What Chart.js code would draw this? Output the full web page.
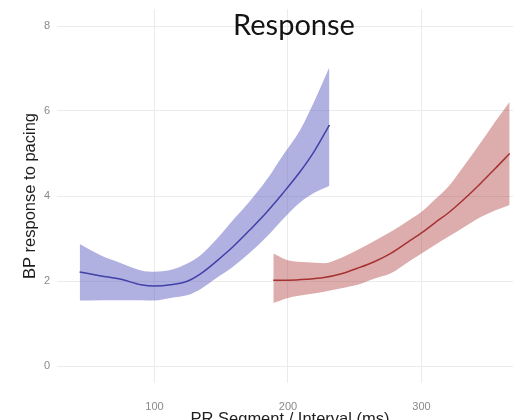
<!DOCTYPE html>
<html>
<head>
<meta charset="utf-8">
<script src="https://cdn.jsdelivr.net/npm/chart.js@4"></script>
<style>
  html, body { margin: 0; padding: 0; overflow: hidden; background: #fff; }
  #wrap { position: absolute; left: 0; top: 0; width: 530px; height: 430px; }
</style>
</head>
<body>
<div id="wrap"><canvas id="chart" width="530" height="430"></canvas></div>
<script>
// values
const blueX     = [44, 60, 75, 90, 100, 112, 125, 135, 147, 159, 172, 184, 196, 209, 220, 231];
const blueFit   = [2.21, 2.12, 2.04, 1.91, 1.88, 1.91, 2.00, 2.18, 2.48, 2.81, 3.22, 3.62, 4.06, 4.57, 5.07, 5.67];
const blueUpper = [2.87, 2.60, 2.42, 2.25, 2.22, 2.26, 2.42, 2.62, 3.00, 3.44, 3.90, 4.38, 4.95, 5.55, 6.25, 7.03];
const blueLower = [1.54, 1.55, 1.55, 1.55, 1.54, 1.60, 1.67, 1.82, 2.08, 2.34, 2.68, 3.04, 3.45, 3.85, 4.08, 4.24];

const redX     = [189, 200, 214, 227, 240, 252, 265, 277, 290, 300, 310, 320, 332, 344, 355, 366];
const redFit   = [2.02, 2.02, 2.04, 2.08, 2.17, 2.30, 2.46, 2.65, 2.92, 3.13, 3.37, 3.60, 3.93, 4.29, 4.64, 5.00];
const redUpper = [2.65, 2.49, 2.44, 2.42, 2.55, 2.73, 2.95, 3.16, 3.42, 3.63, 3.92, 4.22, 4.72, 5.24, 5.74, 6.22];
const redLower = [1.48, 1.60, 1.68, 1.75, 1.83, 1.91, 2.06, 2.18, 2.45, 2.65, 2.85, 3.04, 3.27, 3.50, 3.66, 3.79];

const xTicks = [100, 200, 300];
const yTicks = [0, 2, 4, 6, 8];

const pts = (xs, ys) => xs.map((x, i) => ({ x: x, y: ys[i] }));

const band = (data, color, fill) => ({
    data: data,
    borderWidth: 0,
    pointRadius: 0,
    backgroundColor: color,
    fill: fill,
    cubicInterpolationMode: 'monotone'
});
const line = (data, color) => ({
    data: data,
    borderColor: color,
    borderWidth: 1.5,
    pointRadius: 0,
    fill: false,
    cubicInterpolationMode: 'monotone'
});

// big title drawn over the panel, like the original
const titlePlugin = {
    id: 'bigTitle',
    afterDraw(chart) {
        const ctx = chart.ctx;
        ctx.save();
        ctx.font = '29px Lato, "Open Sans", sans-serif';
        ctx.fillStyle = '#141414';
        ctx.textAlign = 'center';
        ctx.textBaseline = 'middle';
        ctx.fillText('Response', 294, 26);
        ctx.restore();
    }
};

const ctx = document.getElementById('chart').getContext('2d');
new Chart(ctx, {
    type: 'line',
    data: {
        datasets: [
            band(pts(blueX, blueUpper), 'rgba(98, 98, 196, 0.5)', '+1'),
            band(pts(blueX, blueLower), 'rgba(98, 98, 196, 0.5)', false),
            line(pts(blueX, blueFit), '#20208f'),
            band(pts(redX, redUpper), 'rgba(180, 70, 70, 0.45)', '+1'),
            band(pts(redX, redLower), 'rgba(180, 70, 70, 0.45)', false),
            line(pts(redX, redFit), '#9c2020')
        ]
    },
    options: {
        responsive: false,
        animation: false,
        layout: { padding: { top: 9, right: 7, left: 0, bottom: 0 } },
        plugins: { legend: { display: false }, tooltip: { enabled: false } },
        scales: {
            x: {
                type: 'linear',
                min: 27,
                max: 376,
                afterBuildTicks: s => { s.ticks = xTicks.map(v => ({ value: v })); },
                afterFit: s => { s.height = 47; s.paddingLeft = 0; s.paddingRight = 0; },
                grid: { color: '#ebebeb', drawTicks: false },
                border: { display: false },
                ticks: { color: '#8a8a8a', padding: 17, font: { family: '"Liberation Sans", Arial', size: 11 } },
                title: {
                    display: true,
                    text: 'PR Segment / Interval (ms)',
                    color: '#1e1e1e',
                    font: { family: '"Liberation Sans", Arial', size: 16.5 },
                    padding: { top: 0, bottom: 1 }
                }
            },
            y: {
                min: -0.4,
                max: 8.4,
                afterBuildTicks: s => { s.ticks = yTicks.map(v => ({ value: v })); },
                afterFit: s => { s.width = 57; s.paddingTop = 0; s.paddingBottom = 0; },
                grid: { color: '#ebebeb', drawTicks: false },
                border: { display: false },
                ticks: { color: '#8a8a8a', padding: 7, font: { family: '"Liberation Sans", Arial', size: 11 } },
                title: {
                    display: true,
                    text: 'BP response to pacing',
                    color: '#1e1e1e',
                    font: { family: '"Liberation Sans", Arial', size: 16.5 },
                    padding: { top: 21, bottom: 0 }
                }
            }
        }
    },
    plugins: [titlePlugin]
});
</script>
</body>
</html>
